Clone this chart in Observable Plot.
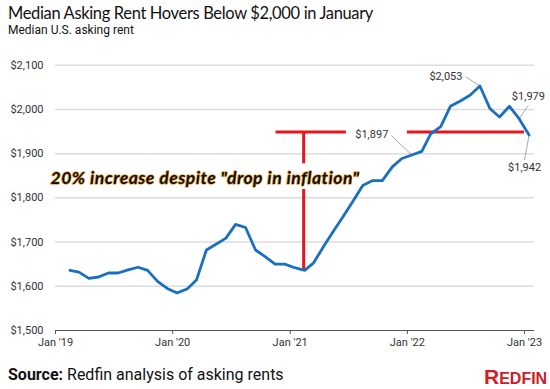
<!DOCTYPE html>
<html>
<head>
<meta charset="utf-8">
<script src="https://cdn.jsdelivr.net/npm/d3@7"></script>
<script src="https://cdn.jsdelivr.net/npm/@observablehq/plot@0.6"></script>
<style>
  html, body { margin: 0; padding: 0; background: #fff; }
  #wrap { width: 550px; height: 389px; position: relative; overflow: hidden; font-family: Roboto, "Liberation Sans", sans-serif; color: #111; }
  #title { position: absolute; left: 8px; top: 2px; font-family: Lato, Roboto, sans-serif; font-size: 16.5px; letter-spacing: -0.35px; line-height: 22px; white-space: nowrap; }
  #subtitle { position: absolute; left: 8px; top: 22px; font-size: 12px; line-height: 16px; white-space: nowrap; }
  #chart { position: absolute; left: 0; top: 38px; }
  #source { position: absolute; left: 8px; top: 364px; font-size: 16px; line-height: 22px; white-space: nowrap; }
  #logo { position: absolute; left: 484px; top: 368px; font-family: "Liberation Sans", Arial, sans-serif; font-weight: bold; color: #cc2026; white-space: nowrap; font-size: 21px; line-height: 18px; }
  #logo .big { font-size: 21px; }
  #logo .small { font-size: 16px; }
</style>
</head>
<body>
<div id="wrap">
  <div id="title">Median Asking Rent Hovers Below $2,000 in January</div>
  <div id="subtitle">Median U.S. asking rent</div>
  <div id="chart"></div>
  <div id="source"><b>Source:</b> Redfin analysis of asking rents</div>
  <div id="logo"><span class="big">R</span><span class="small">EDFIN</span></div>
</div>
<script>
// Months (plotted mid-month), Feb 2019 – Jan 2023
const months = [
  "2019-02","2019-03","2019-04","2019-05","2019-06","2019-07","2019-08","2019-09","2019-10","2019-11","2019-12","2020-01",
  "2020-02","2020-03","2020-04","2020-05","2020-06","2020-07","2020-08","2020-09","2020-10","2020-11","2020-12","2021-01",
  "2021-02","2021-03","2021-04","2021-05","2021-06","2021-07","2021-08","2021-09","2021-10","2021-11","2021-12","2022-01",
  "2022-02","2022-03","2022-04","2022-05","2022-06","2022-07","2022-08","2022-09","2022-10","2022-11","2022-12","2023-01"
];
// Median U.S. asking rent ($)
const rents = [
  1636,1632,1618,1621,1630,1630,1637,1643,1636,1611,1595,1585,
  1594,1614,1682,1695,1709,1740,1733,1682,1667,1650,1650,1642,
  1636,1653,1690,1724,1758,1792,1828,1839,1839,1870,1889,1897,
  1905,1945,1961,2007,2019,2032,2053,2002,1983,2007,1979,1942
];
const yTicks = [1500,1600,1700,1800,1900,2000,2100];
const xTicks = ["2019-01-01","2020-01-01","2021-01-01","2022-01-01","2023-01-01"];
const xDomain = ["2019-01-01","2023-02-01"];
const yDomain = [1500, 2100];

// Value call-outs: point, leader-line end, text
const calloutText = ["$2,053","$1,979","$1,942","$1,897"];
const calloutPointDate = ["2022-08-15","2022-12-15","2023-01-15","2022-01-15"];
const calloutPointValue = [2053,1979,1942,1897];
const calloutEndDate = ["2022-07-01","2023-01-13","2023-01-01","2021-11-12"];
const calloutEndValue = [2074,2009,1885,1941];
const calloutAnchor = ["end","middle","middle","end"];
const calloutDx = [-3,0,0,-3];
const calloutDy = [0,-9,7,-1];

// Red overlay annotation
const redLevel = 1949;
const redSegStart = ["2020-11-18","2022-01-01"];
const redSegEnd = ["2021-06-25","2023-01-01"];
const redVDate = "2021-02-12";
const redVFrom = [1949, 1819];
const redVTo = [1877, 1636];
const noteText = "20% increase despite \"drop in inflation\"";
const noteDate = "2019-01-01";
const noteValue = 1845;

const D = s => new Date(s.length === 7 ? s + "-15" : s);
const series = months.map((m, i) => ({date: D(m), value: rents[i]}));
const callouts = calloutText.map((t, i) => ({
  text: t, pd: D(calloutPointDate[i]), pv: calloutPointValue[i],
  ed: D(calloutEndDate[i]), ev: calloutEndValue[i],
  anchor: calloutAnchor[i], dx: calloutDx[i], dy: calloutDy[i]
}));
const redH = redSegStart.map((s, i) => ({x1: D(s), x2: D(redSegEnd[i]), y: redLevel}));
const redV = redVFrom.map((f, i) => ({x: D(redVDate), y1: f, y2: redVTo[i]}));

const blue = "#1a6fc0";
const red = "#e8141e";
const font = "Roboto, 'Liberation Sans', sans-serif";

const plot = Plot.plot({
  width: 550, height: 320,
  marginTop: 26.7, marginBottom: 28, marginLeft: 55, marginRight: 16,
  style: {fontFamily: font, fontSize: "11px", color: "#333", background: "transparent", overflow: "visible"},
  x: {type: "utc", domain: xDomain.map(D)},
  y: {domain: yDomain},
  marks: [
    Plot.ruleY(yTicks.slice(1), {stroke: "#dcdcdc", strokeWidth: 1.5}),
    Plot.axisY({ticks: yTicks, tickFormat: d3.format("$,"), tickSize: 0, tickPadding: 12, label: null, fontSize: 11, fill: "#333"}),
    Plot.ruleY([yDomain[0]], {stroke: "#555", strokeWidth: 1.2}),
    Plot.axisX({ticks: xTicks.map(D), tickFormat: d3.utcFormat("Jan '%y"), tickSize: 4, tickPadding: 4, label: null, fontSize: 11, fill: "#333", stroke: "#555"}),
    Plot.ruleY(redH, {y: "y", x1: "x1", x2: "x2", stroke: red, strokeWidth: 3}),
    Plot.ruleX(redV, {x: "x", y1: "y1", y2: "y2", stroke: red, strokeWidth: 3}),
    Plot.link(callouts, {x1: "pd", y1: "pv", x2: "ed", y2: "ev", stroke: "#aaa", strokeWidth: 1}),
    Plot.line(series, {x: "date", y: "value", stroke: blue, strokeWidth: 2.8, strokeLinejoin: "round", curve: "linear"}),
    ...callouts.map(c => Plot.text([c], {x: "ed", y: "ev", text: "text", textAnchor: c.anchor, dx: c.dx, dy: c.dy, fontSize: 11, fill: "#333"})),
    Plot.text([noteText], {x: () => D(noteDate), y: () => noteValue, text: d => d, textAnchor: "start", dx: -5,
      fontFamily: "Lato, 'Open Sans', sans-serif", fontWeight: "bold", fontStyle: "italic", fontSize: 17.5,
      fill: "#111", stroke: "#f0a845", strokeWidth: 1.4})
  ]
});
// slight letter spacing on the annotation note to match the reference's wider face
plot.querySelectorAll("text").forEach(t => {
  if (t.textContent === noteText) t.setAttribute("letter-spacing", "0.5");
});
document.getElementById("chart").appendChild(plot);
</script>
</body>
</html>
